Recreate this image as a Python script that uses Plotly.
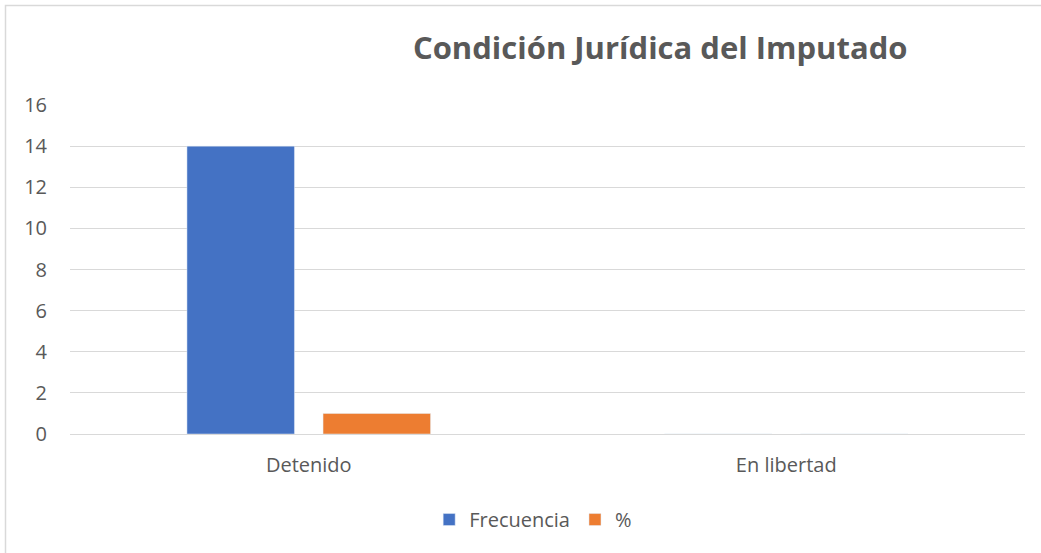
import plotly.graph_objects as go

categories = ["Detenido", "En libertad"]
frecuencia = [14, 0]
porcentaje = [1, 0]
y_ticks = [0, 2, 4, 6, 8, 10, 12, 14, 16]

FONT = "Open Sans"
GRAY = "#595959"

fig = go.Figure()
fig.add_trace(go.Bar(name="Frecuencia", x=categories, y=frecuencia, marker_color="#4472C4"))
fig.add_trace(go.Bar(name="%", x=categories, y=porcentaje, marker_color="#ED7D31"))

fig.update_layout(
    width=1041, height=553,
    margin=dict(l=70, r=16, t=105, b=119),
    paper_bgcolor="white", plot_bgcolor="white",
    barmode="group", bargap=0.43, bargroupgap=0.21,
    font=dict(family=FONT, color=GRAY, size=20),
    title=dict(text="<b>Condición Jurídica del Imputado</b>",
               font=dict(family=FONT, size=31, color=GRAY),
               x=0.618, xref="paper", xanchor="center",
               y=1 - 48 / 553, yref="container", yanchor="middle"),
    showlegend=True,
    legend=dict(orientation="h", x=0.485, xanchor="center", y=-0.26, yanchor="middle",
                font=dict(family=FONT, size=20, color=GRAY), itemwidth=30,
                traceorder="normal"),
    xaxis=dict(showgrid=False, showline=False, ticks="", ticklabelstandoff=17,
               tickfont=dict(size=20, color=GRAY)),
    yaxis=dict(range=[0, 16], tickvals=y_ticks, showgrid=True, gridcolor="#D9D9D9",
               gridwidth=1, zeroline=True, zerolinecolor="#D9D9D9", zerolinewidth=1,
               showline=False, ticks="", ticklabelstandoff=22,
               tickfont=dict(size=20, color=GRAY)),
    shapes=[dict(type="rect", xref="paper", yref="paper",
                 x0=(5.5 - 70) / 955, x1=1.2, y0=-0.5, y1=1 + (105 - 5.5) / 329,
                 line=dict(color="#D9D9D9", width=1.5), fillcolor="rgba(0,0,0,0)",
                 layer="below")],
)

fig.write_html("out.html", config={"displayModeBar": False},
               post_script="document.body.style.margin='0';")
